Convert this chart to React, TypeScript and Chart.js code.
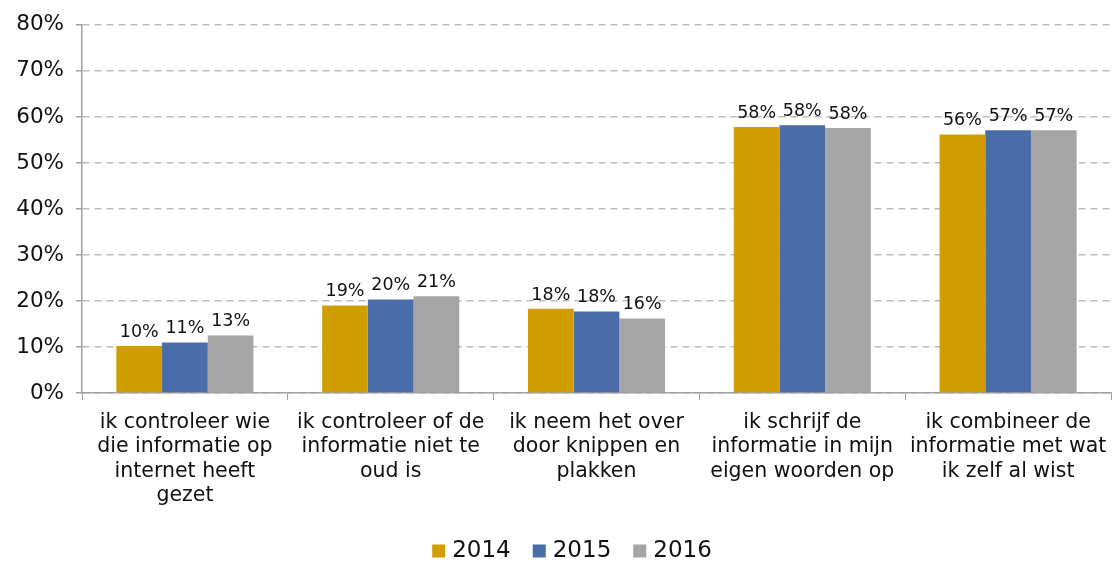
import React, { useEffect, useRef } from "react";
import { Chart, registerables } from "chart.js";

Chart.register(...registerables);

const categories: string[][] = [
  ["ik controleer wie", "die informatie op", "internet heeft", "gezet"],
  ["ik controleer of de", "informatie niet te", "oud is"],
  ["ik neem het over", "door knippen en", "plakken"],
  ["ik schrijf de", "informatie in mijn", "eigen woorden op"],
  ["ik combineer de", "informatie met wat", "ik zelf al wist"],
];

const seriesNames = ["2014", "2015", "2016"];
const values2014 = [10.2, 19.0, 18.3, 57.8, 56.2];
const values2015 = [11.0, 20.3, 17.7, 58.2, 57.1];
const values2016 = [12.5, 21.0, 16.2, 57.6, 57.1];
const seriesColors = ["#D09E00", "#4A6DAA", "#A5A5A5"];
const yTicks = [0, 10, 20, 30, 40, 50, 60, 70, 80];

const FONT = "'DejaVu Sans', Verdana, sans-serif";

const dataLabelPlugin = {
  id: "dataLabels",
  afterDatasetsDraw(chart: any) {
    const ctx = chart.ctx;
    ctx.save();
    ctx.font = `17.5px ${FONT}`;
    ctx.fillStyle = "#111";
    ctx.textAlign = "center";
    ctx.textBaseline = "bottom";
    chart.data.datasets.forEach((ds: any, di: number) => {
      const meta = chart.getDatasetMeta(di);
      meta.data.forEach((bar: any, i: number) => {
        const v = ds.data[i];
        ctx.fillText(Math.round(v) + "%", bar.x, bar.y - 5);
      });
    });
    ctx.restore();
  },
};

const legendPlugin = {
  id: "customLegend",
  afterDraw(chart: any) {
    const ctx = chart.ctx;
    ctx.save();
    ctx.font = `23px ${FONT}`;
    ctx.textBaseline = "middle";
    ctx.textAlign = "left";
    const box = 13;
    const gap = 7;
    const spacing = 22;
    const items = chart.data.datasets.map((ds: any) => ({
      label: ds.label,
      color: ds.backgroundColor,
      w: ctx.measureText(ds.label).width,
    }));
    const total =
      items.reduce((s: number, it: any) => s + box + gap + it.w, 0) + spacing * (items.length - 1);
    let x = chart.width / 2 + 13 - total / 2;
    const cy = 551;
    items.forEach((it: any) => {
      ctx.fillStyle = it.color;
      ctx.fillRect(x, cy - box / 2, box, box);
      ctx.fillStyle = "#111";
      ctx.fillText(it.label, x + box + gap, cy);
      x += box + gap + it.w + spacing;
    });
    ctx.restore();
  },
};

export default function App() {
  const ref = useRef<HTMLCanvasElement>(null);
  useEffect(() => {
    if (!ref.current) return;
    const allSeries = [values2014, values2015, values2016];
    const chart = new Chart(ref.current, {
      type: "bar",
      data: {
        labels: categories,
        datasets: allSeries.map((vals, i) => ({
          label: seriesNames[i],
          data: vals,
          backgroundColor: seriesColors[i],
          borderWidth: 0,
          barPercentage: 1,
          categoryPercentage: 0.666,
        })),
      },
      options: {
        responsive: false,
        animation: false,
        maintainAspectRatio: false,
        layout: { padding: { top: 15, right: 7, left: 0, bottom: 0 } },
        plugins: {
          tooltip: { enabled: false },
          legend: { display: false },
        },
        scales: {
          x: {
            grid: {
              display: true,
              drawOnChartArea: false,
              drawTicks: true,
              tickLength: 7,
              color: "#a0a0a0",
              offset: true,
            },
            border: { display: true, color: "#a0a0a0", width: 1.5 },
            ticks: {
              font: { family: FONT, size: 20.5, lineHeight: "24.5px" },
              color: "#111",
              maxRotation: 0,
              autoSkip: false,
              padding: 10,
            },
            afterFit(scale: any) {
              scale.height = 170;
            },
          },
          y: {
            min: 0,
            max: 80,
            afterBuildTicks(scale: any) {
              scale.ticks = yTicks.map((v) => ({ value: v }));
            },
            grid: {
              color: "#bdbdbd",
              lineWidth: 1.5,
              tickColor: "#a0a0a0",
              tickLength: 6,
              tickBorderDash: [],
            },
            border: { display: true, color: "#a0a0a0", width: 1.5, dash: [7, 5] },
            ticks: {
              font: { family: FONT, size: 21.5 },
              color: "#111",
              padding: 12,
              callback: (v: any) => v + "%",
            },
            afterFit(scale: any) {
              scale.width = 82;
            },
          },
        },
      } as any,
      plugins: [dataLabelPlugin, legendPlugin],
    });
    return () => chart.destroy();
  }, []);
  return (
    <div style={{ position: "absolute", left: 0, top: 0, width: 1118, height: 563 }}>
      <canvas ref={ref} width={1118} height={563} />
    </div>
  );
}
